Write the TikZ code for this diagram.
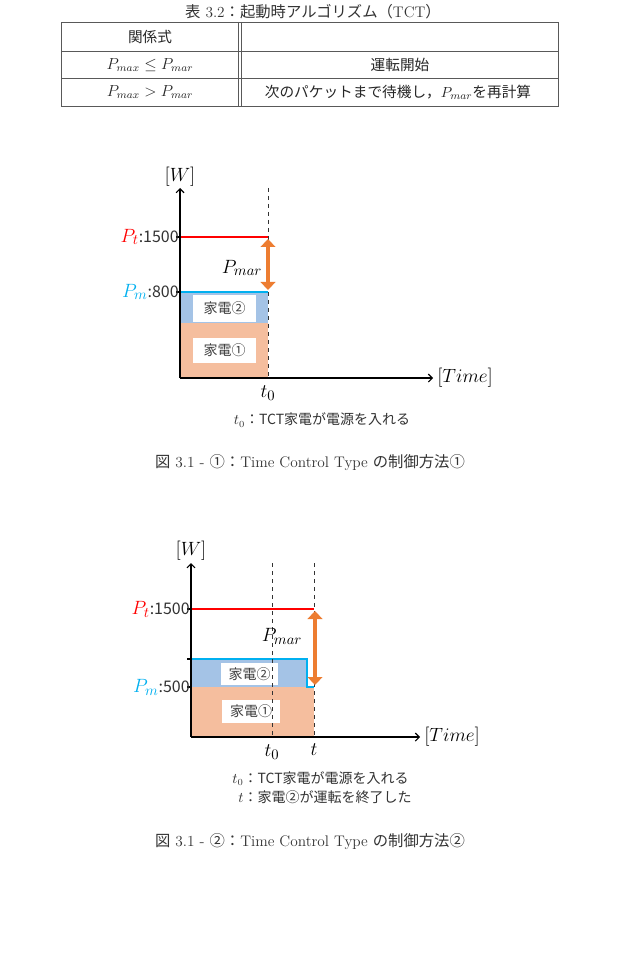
\documentclass[tikz,border=0pt]{standalone}
\usepackage{fontspec}
\usetikzlibrary{arrows.meta}
\newfontfamily\jp{Noto Sans CJK JP}
\definecolor{powerred}{HTML}{FF0000}
\definecolor{powerblue}{HTML}{00B0F0}
\definecolor{appone}{HTML}{F5BE9E}
\definecolor{apptwo}{HTML}{A4C3E6}
\definecolor{marorange}{HTML}{ED7D31}
\tikzset{
  tblline/.style={draw=black!65, line width=0.7pt},
  captxt/.style={font=\fontsize{11.5}{13}\selectfont, text=black!80, inner sep=0pt},
  celltxt/.style={font=\fontsize{12}{14}\selectfont, text=black!85, inner sep=0pt},
  axisline/.style={-{Straight Barb[length=3pt,width=6pt]}, line width=0.8pt},
  dashline/.style={dashed, line width=0.7pt, black!80},
  ptline/.style={powerred, line width=0.8pt},
  pmline/.style={powerblue, line width=1pt},
  marrow/.style={{Triangle[length=6pt,width=11pt]}-{Triangle[length=6pt,width=11pt]}, marorange, line width=3.5pt},
  appbox/.style={fill=white, inner sep=0pt, font=\jp\fontsize{10.5}{12}\selectfont, text=black!75},
  lvltxt/.style={anchor=east, inner sep=0pt, font=\fontsize{15}{17}\selectfont},
  mathtxt/.style={inner sep=0pt, font=\fontsize{15}{17}\selectfont},
  notetxt/.style={inner sep=0pt, font=\jp\fontsize{10.5}{14}\selectfont, text=black!80}
}
\newcommand\lvlnum[1]{{\jp\fontsize{12}{14}\selectfont\color{black!80}#1}}
\begin{document}
\begin{tikzpicture}[x=0.75pt,y=-0.75pt]
\useasboundingbox[fill=white] (0,0) rectangle (627,969);

% table
\node[captxt] (tcap) at (313,12) {{\jp 表} 3.2{\jp ：起動時アルゴリズム（}TCT{\jp ）}};
\draw[tblline] (61,22) rectangle (558,106);
\draw[tblline] (61,51) -- (558,51);
\draw[tblline] (61,78) -- (558,78);
\draw[tblline] (238,22) -- (238,106);
\draw[tblline] (241,22) -- (241,106);
\node[celltxt] (hrel) at (150,37) {\jp\fontsize{11}{13}\selectfont 関係式};
\node[celltxt] (rle) at (150,65) {$P_{max}\le P_{mar}$};
\node[celltxt] (rrun) at (400,65) {\jp\fontsize{11}{13}\selectfont 運転開始};
\node[celltxt] (rgt) at (150,92) {$P_{max}>P_{mar}$};
\node[celltxt] (rwait) at (398,92) {\jp\fontsize{11}{13}\selectfont 次のパケットまで待機し，$P_{mar}$を再計算};

% chart 1
\coordinate (o1) at (180,378);
\coordinate (w1) at (180,188);
\coordinate (x1) at (433,378);
\coordinate (d1t) at (268,188);
\coordinate (d1b) at (268,378);
\coordinate (pt1) at (180,237);
\coordinate (pt1e) at (268,237);
\coordinate (pm1) at (180,292);
\coordinate (pm1e) at (268,292);
\coordinate (ma1t) at (268,239);
\coordinate (ma1b) at (268,290);
\fill[appone] (180,323) rectangle (268,378);
\fill[apptwo] (180,292) rectangle (268,323);
\node[appbox, minimum width=47pt, minimum height=20pt] (a12) at (224.5,308.5) {家電②};
\node[appbox, minimum width=47pt, minimum height=19pt] (a11) at (224.5,350.5) {家電①};
\draw[ptline] (pt1) -- (pt1e);
\draw[pmline] (pm1) -- (pm1e);
\draw[dashline] (d1t) -- (d1b);
\draw[axisline] (o1) -- (w1);
\draw[axisline] (o1) -- (x1);
\draw[line width=0.8pt] (176,237) -- (pt1);
\draw[line width=0.8pt] (176,292) -- (pm1);
\draw[marrow] (ma1t) -- (ma1b);
\node[lvltxt] (lpt1) at (179,237) {\textcolor{powerred}{$P_t$}\lvlnum{:1500}};
\node[lvltxt] (lpm1) at (179,292) {\textcolor{powerblue}{$P_m$}\lvlnum{:800}};
\node[mathtxt] (lw1) at (180,177) {$[W]$};
\node[mathtxt, anchor=west] (lx1) at (437,378) {$[Time]$};
\node[mathtxt] (lt01) at (268,393) {$t_0$};
\node[mathtxt] (lmar1) at (242,268) {$P_{mar}$};
\node[notetxt] (note1) at (322,420) {$t_0$：TCT家電が電源を入れる};
\node[captxt] (cap1) at (310,463) {{\jp 図} 3.1 - {\jp ①：}Time Control Type {\jp の制御方法①}};

% chart 2
\coordinate (o2) at (191,737);
\coordinate (w2) at (191,563);
\coordinate (x2) at (420,737);
\coordinate (d2t) at (272,563);
\coordinate (d2b) at (272,737);
\coordinate (d3t) at (314,563);
\coordinate (d3b) at (314,737);
\coordinate (pt2) at (191,609);
\coordinate (pt2e) at (314,609);
\coordinate (pm2) at (191,659);
\coordinate (pm2c) at (307,659);
\coordinate (pm2d) at (307,687);
\coordinate (pm2e) at (314,687);
\coordinate (ma2t) at (315,611);
\coordinate (ma2b) at (315,685);
\fill[appone] (191,687) rectangle (314,737);
\fill[apptwo] (191,659) rectangle (307,687);
\node[appbox, minimum width=43pt, minimum height=16.5pt] (a22) at (249.5,674) {家電②};
\node[appbox, minimum width=43.5pt, minimum height=17pt] (a21) at (251,711.5) {家電①};
\draw[ptline] (pt2) -- (pt2e);
\draw[pmline] (pm2) -- (pm2c) -- (pm2d) -- (pm2e);
\draw[dashline] (d2t) -- (d2b);
\draw[dashline] (d3t) -- (d3b);
\draw[axisline] (o2) -- (w2);
\draw[axisline] (o2) -- (x2);
\draw[line width=0.8pt] (187,609) -- (pt2);
\draw[line width=0.8pt] (187,659) -- (pm2);
\draw[line width=0.8pt] (187,687) -- (191,687);
\draw[marrow] (ma2t) -- (ma2b);
\node[lvltxt] (lpt2) at (190,609) {\textcolor{powerred}{$P_t$}\lvlnum{:1500}};
\node[lvltxt] (lpm2) at (190,687) {\textcolor{powerblue}{$P_m$}\lvlnum{:500}};
\node[mathtxt] (lw2) at (191,551) {$[W]$};
\node[mathtxt, anchor=west] (lx2) at (424,737) {$[Time]$};
\node[mathtxt] (lt02) at (272,752) {$t_0$};
\node[mathtxt] (lt2) at (314,750) {$t$};
\node[mathtxt] (lmar2) at (282,636) {$P_{mar}$};
\node[notetxt] (note2) at (322,789) {\begin{tabular}{@{}r@{}l@{}}$t_0$&：TCT家電が電源を入れる\\$t$&：家電②が運転を終了した\end{tabular}};
\node[captxt] (cap2) at (310,842) {{\jp 図} 3.1 - {\jp ②：}Time Control Type {\jp の制御方法②}};
\end{tikzpicture}
\end{document}
